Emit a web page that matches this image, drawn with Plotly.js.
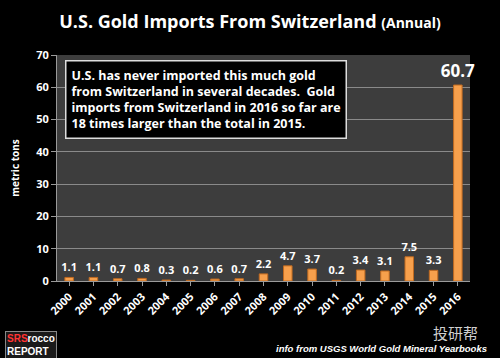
<!DOCTYPE html>
<html><head><meta charset="utf-8">
<script src="https://cdn.plot.ly/plotly-3.0.1.min.js"></script>
<style>body{margin:0;background:#000}#c{width:500px;height:358px}</style>
</head><body><div id="c"></div>
<script>
const years = ['2000','2001','2002','2003','2004','2005','2006','2007','2008','2009','2010','2011','2012','2013','2014','2015','2016'];
const tons = [1.1,1.1,0.7,0.8,0.3,0.2,0.6,0.7,2.2,4.7,3.7,0.2,3.4,3.1,7.5,3.3,60.7];
const labelSizes = years.map((y,i)=> i===years.length-1 ? 17 : 11);

const trace = {
  type:'bar', x: years, y: tons,
  marker:{color:'#f7a04c', line:{color:'#c06a20', width:1}},
  width:0.35,
  text: tons.map(v=>v.toFixed(1)),
  textposition:'outside', cliponaxis:false, constraintext:'none',
  textfont:{color:'#ffffff', size:labelSizes, family:'Open Sans, Liberation Sans, sans-serif', weight:'bold'},
  hoverinfo:'none'
};

const layout = {
  width:500, height:358,
  paper_bgcolor:'#000000', plot_bgcolor:'#3d3d3d',
  margin:{l:57, r:30, t:55, b:77},
  showlegend:false,
  title:{text:'<b>U.S. Gold Imports From Switzerland</b> <b><span style="font-size:14px">(Annual)</span></b>',
    font:{color:'#ffffff', size:18, family:'Open Sans, Liberation Sans, sans-serif'}, x:0.5, xanchor:'center', y:0.94, yanchor:'middle'},
  xaxis:{type:'category', tickangle:-45, tickfont:{color:'#ffffff', size:11, family:'Open Sans, Liberation Sans, sans-serif', weight:'bold'},
    showgrid:false, linecolor:'#9a9a9a', ticks:'outside', tickcolor:'#9a9a9a', ticklen:4, automargin:false},
  yaxis:{range:[0,70], dtick:10, tickfont:{color:'#ffffff', size:11, family:'Open Sans, Liberation Sans, sans-serif', weight:'bold'},
    gridcolor:'#8a8a8a', gridwidth:1, zeroline:false, linecolor:'#9a9a9a', ticks:'outside', tickcolor:'#9a9a9a', ticklen:5, automargin:false,
    title:{text:'<b>metric tons</b>', font:{color:'#ffffff', size:10, family:'Open Sans, Liberation Sans, sans-serif'}, standoff:14}},
  annotations:[
    {xref:'paper', yref:'paper', x:0.02, y:0.978, xanchor:'left', yanchor:'top', align:'left',
     text:'<b>U.S. has never imported this much gold<br>from Switzerland in several decades.  Gold<br>imports from Switzerland in 2016 so far are<br>18 times larger than the total in 2015.</b>',
     font:{color:'#ffffff', size:12.5, family:'Open Sans, Liberation Sans, sans-serif'},
     bgcolor:'#000000', bordercolor:'#dddddd', borderwidth:1.5, borderpad:5, showarrow:false},
    {xref:'paper', yref:'paper', x:1.045, y:-0.30, xanchor:'right', yanchor:'middle',
     text:'<b><i>info from USGS World Gold Mineral Yearbooks</i></b>',
     font:{color:'#ffffff', size:9.5, family:'Liberation Sans, Arial, sans-serif'}, showarrow:false},
    {xref:'paper', yref:'paper', x:1.024, y:-0.226, xanchor:'right', yanchor:'middle',
     text:'投研帮', font:{color:'#cfcfcf', size:15, family:'Noto Sans CJK SC'}, showarrow:false},
    {xref:'paper', yref:'paper', x:-0.126, y:-0.285, xanchor:'left', yanchor:'middle', align:'left',
     text:'<b><span style="color:#ff3333">SRS</span>rocco<br>REPORT</b>',
     font:{color:'#ffffff', size:10, family:'Liberation Sans, Arial, sans-serif'},
     bgcolor:'#1a1a1a', bordercolor:'#888888', borderwidth:1, borderpad:1, showarrow:false}
  ]
};
Plotly.newPlot('c',[trace],layout,{staticPlot:true});
</script></body></html>
